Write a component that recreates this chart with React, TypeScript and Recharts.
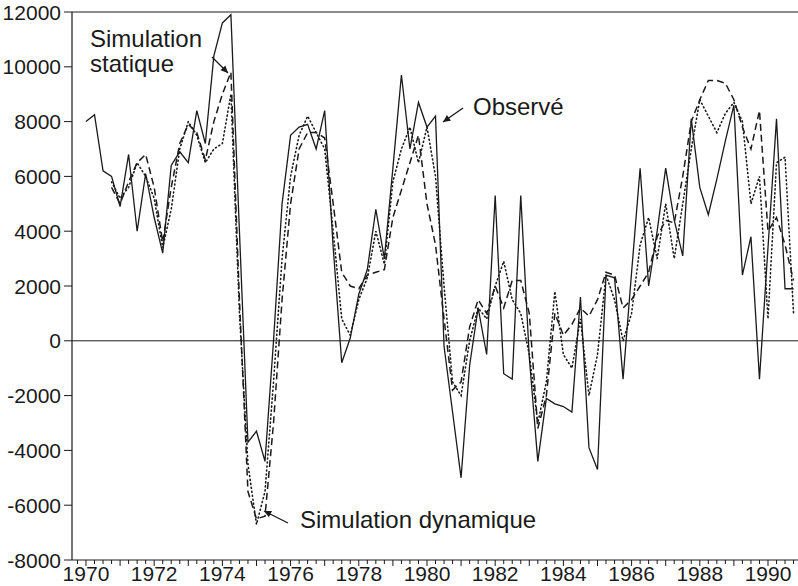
import { Line, LineChart, ReferenceLine, XAxis, YAxis } from "recharts";

// quarterly series, 1970 Q1 .. 1990 Q4
const START_YEAR = 1970;

const observe = [
  8000, 8250, 6200, 6000, 4900, 6800, 4000, 6100, 4500, 3200,
  6400, 6900, 6500, 8400, 7200, 10400, 11600, 11900, 4000, -3700,
  -3300, -4400, 0, 5000, 7500, 7800, 7900, 7000, 8400, 3400,
  -800, 100, 1700, 2600, 4800, 3000, 6300, 9700, 7000, 8700,
  7800, 8200, -200, -2600, -5000, -900, 1200, -500, 5300, -1200,
  -1400, 5300, -600, -4400, -2100, -2300, -2400, -2600, 1600, -3900,
  -4700, 2400, 2300, -1400, 2500, 6300, 2000, 4000, 6300, 4400,
  3100, 8100, 5600, 4600, 5900, 7300, 8600, 2400, 3800, -1400,
  3400, 8100, 1900, 1900,
];

const statique = [
  null, null, null, 5800, 5200, 5600, 6500, 6000, 5200, 3400,
  4800, 7000, 8000, 7500, 6500, 7000, 7200, 9000, 1000, -4500,
  -6700, -5500, -1500, 3000, 6000, 7500, 8200, 7600, 7000, 4000,
  800, 200, 1500, 2300, 4000, 2800, 5800, 7000, 7800, 6500,
  7800, 6000, 2000, -1500, -2000, 0, 1200, 800, 2000, 2900,
  1500, 1000, -500, -3000, -1500, 1800, -500, -1000, 800, -2000,
  -500, 2400, 1500, 0, 1000, 3500, 4500, 3000, 5000, 3000,
  5000, 7000, 8800, 8200, 7600, 8300, 8700, 8000, 5000, 6000,
  800, 6500, 6700, 1000,
];

const dynamique = [
  null, null, null, 5600, 5000, 5800, 6500, 6800, 5600, 3600,
  5600, 7200, 7900, 7600, 6600, 8000, 9000, 9800, 1500, -5500,
  -6500, -6400, -3000, 1500, 5000, 7000, 7600, 7600, 7400, 5000,
  2500, 2000, 1900, 2400, 2500, 2600, 4500, 5500, 6500, 7500,
  5000, 3500, 800, -1800, -1500, 500, 1500, 1000, 2000, 1200,
  2200, 2200, 1000, -3200, -2000, 1000, 200, 600, 1200, 900,
  1500, 2500, 2400, 1200, 1500, 2000, 2500, 3800, 4400, 4300,
  6000, 8000, 8800, 9500, 9500, 9400, 8800, 7800, 7000, 8400,
  4000, 4500, 3500, 2200,
];

const yTicks = [-8000, -6000, -4000, -2000, 0, 2000, 4000, 6000, 8000, 10000, 12000];

const data = observe.map((v, i) => ({
  t: START_YEAR + i / 4,
  obs: v,
  stat: statique[i],
  dyn: dynamique[i],
}));

const xTicks = [START_YEAR - 0.25, ...data.map((d) => d.t)];

const FONT = "'Liberation Sans', Arial, sans-serif";
const INK = "#1a1a1a";

const XTick = (props: any) => {
  const { x, y, payload } = props;
  const v = payload.value;
  const isYear = Math.abs(v - Math.round(v)) < 1e-6;
  const showLabel = isYear && Math.round(v) % 2 === 0;
  return (
    <g>
      <line x1={x} x2={x} y1={y} y2={y + (isYear ? 6 : 4)} stroke={INK} strokeWidth={1} />
      {showLabel && (
        <text x={x} y={y + 21} textAnchor="middle" fontSize={21} fontFamily={FONT} fill={INK}>
          {Math.round(v)}
        </text>
      )}
    </g>
  );
};

const YTick = (props: any) => {
  const { x, y, payload } = props;
  return (
    <g>
      <line x1={x - 8} x2={x} y1={y} y2={y} stroke={INK} strokeWidth={1} />
      <text x={x - 11} y={y} dy="0.36em" textAnchor="end" fontSize={21} fontFamily={FONT} fill={INK}>
        {payload.value}
      </text>
    </g>
  );
};

function Arrow({ x1, y1, x2, y2 }: { x1: number; y1: number; x2: number; y2: number }) {
  const a = Math.atan2(y2 - y1, x2 - x1);
  const l = 8;
  const w = 0.45;
  const p1 = [x2 - l * Math.cos(a - w), y2 - l * Math.sin(a - w)];
  const p2 = [x2 - l * Math.cos(a + w), y2 - l * Math.sin(a + w)];
  return (
    <g>
      <line x1={x1} y1={y1} x2={x2} y2={y2} stroke={INK} strokeWidth={1.3} />
      <polygon points={`${x2},${y2} ${p1[0]},${p1[1]} ${p2[0]},${p2[1]}`} fill={INK} />
    </g>
  );
}

export default function App() {
  return (
    <div style={{ position: "absolute", left: 0, top: 0, width: 798, height: 586, background: "#fff" }}>
      <LineChart
        width={798}
        height={586}
        data={data}
        margin={{ top: 12, right: 0, left: 0, bottom: 0 }}
      >
        <XAxis
          dataKey="t"
          type="number"
          domain={[1969.59, 1990.88]}
          allowDataOverflow
          ticks={xTicks}
          interval={0}
          tick={<XTick />}
          tickLine={false}
          tickSize={0}
          tickMargin={0}
          height={26}
          axisLine={{ stroke: INK, strokeWidth: 1.2 }}
        />
        <YAxis
          type="number"
          domain={[-8000, 12000]}
          ticks={yTicks}
          interval={0}
          tick={<YTick />}
          tickLine={false}
          tickSize={0}
          tickMargin={0}
          width={72}
          axisLine={{ stroke: INK, strokeWidth: 1.2 }}
        />
        <ReferenceLine y={12000} stroke={INK} strokeWidth={1.2} />
        <ReferenceLine y={0} stroke={INK} strokeWidth={1} />
        <Line
          type="linear"
          dataKey="stat"
          name="Simulation statique"
          stroke={INK}
          strokeWidth={1.6}
          strokeDasharray="1 3"
          strokeLinecap="round"
          dot={false}
          isAnimationActive={false}
        />
        <Line
          type="linear"
          dataKey="dyn"
          name="Simulation dynamique"
          stroke={INK}
          strokeWidth={1.5}
          strokeDasharray="7 4"
          dot={false}
          isAnimationActive={false}
        />
        <Line
          type="linear"
          dataKey="obs"
          name="Observé"
          stroke={INK}
          strokeWidth={1.3}
          dot={false}
          isAnimationActive={false}
        />
      </LineChart>
      <svg
        width={798}
        height={586}
        style={{ position: "absolute", left: 0, top: 0, pointerEvents: "none" }}
      >
        <g fontFamily={FONT} fontSize={24} fill={INK}>
          <text x={90} y={47}>Simulation</text>
          <text x={90} y={72}>statique</text>
          <text x={473} y={115}>Observé</text>
          <text x={300} y={528}>Simulation dynamique</text>
        </g>
        <Arrow x1={212} y1={57} x2={228} y2={73} />
        <Arrow x1={463} y1={108} x2={443} y2={122} />
        <Arrow x1={288} y1={523} x2={264} y2={511} />
      </svg>
    </div>
  );
}
